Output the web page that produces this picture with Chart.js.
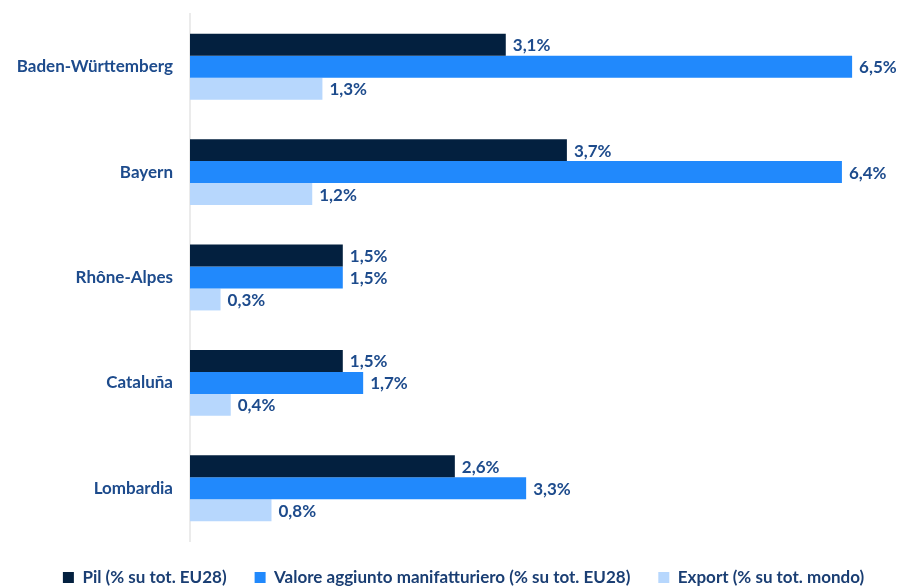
<!DOCTYPE html>
<html>
<head>
<meta charset="utf-8">
<script src="https://cdn.jsdelivr.net/npm/chart.js@4/dist/chart.umd.min.js"></script>
<style>
  html, body { margin: 0; padding: 0; background: #fff; }
  #wrap { width: 901px; height: 588px; }
</style>
</head>
<body>
<div id="wrap"><canvas id="myChart"></canvas></div>
<script>
const regioni = ['Baden-Württemberg', 'Bayern', 'Rhône-Alpes', 'Cataluña', 'Lombardia'];
const pil = [3.1, 3.7, 1.5, 1.5, 2.6];
const valoreAggiunto = [6.5, 6.4, 1.5, 1.7, 3.3];
const exportMondo = [1.3, 1.2, 0.3, 0.4, 0.8];
const serieNomi = [
    'Pil (% su tot. EU28)',
    'Valore aggiunto manifatturiero (% su tot. EU28)',
    'Export (% su tot. mondo)'
];

const labelColor = '#1d4b8c';
const fontFamily = 'Lato, "Noto Sans", sans-serif';

// write the value to the right of each bar, italian style (comma decimals)
const valueLabels = {
    id: 'valueLabels',
    afterDatasetsDraw(chart) {
        const c = chart.ctx;
        c.save();
        c.font = 'bold 17px ' + fontFamily;
        c.fillStyle = labelColor;
        c.textBaseline = 'middle';
        c.textAlign = 'left';
        chart.data.datasets.forEach((ds, i) => {
            chart.getDatasetMeta(i).data.forEach((bar, j) => {
                const txt = ds.data[j].toFixed(1).replace('.', ',') + '%';
                c.fillText(txt, bar.x + 7, bar.y + 1);
            });
        });
        c.restore();
    }
};

const data = {
    labels: regioni,
    datasets: [{
        label: serieNomi[0],
        data: pil,
        backgroundColor: '#03203f'
    }, {
        label: serieNomi[1],
        data: valoreAggiunto,
        backgroundColor: '#2189fc'
    }, {
        label: serieNomi[2],
        data: exportMondo,
        backgroundColor: '#b7d7fd'
    }]
};

const config = {
    type: 'bar',
    data: data,
    options: {
        indexAxis: 'y',
        responsive: true,
        maintainAspectRatio: false,
        animation: false,
        // negative right padding nudges the centred legend a bit to the right
        layout: {
            padding: { top: 14, right: -26, left: 0, bottom: -8 }
        },
        datasets: {
            bar: {
                barPercentage: 1,
                categoryPercentage: 0.625
            }
        },
        scales: {
            x: {
                display: false,
                min: 0,
                max: 6.98
            },
            y: {
                grid: { display: false },
                border: { color: '#ebebeb', width: 2 },
                ticks: {
                    color: labelColor,
                    padding: 9,
                    font: { family: fontFamily, size: 17, weight: 'bold' }
                },
                afterFit(scale) {
                    scale.width = 190;
                    scale.paddingTop = 0;
                    scale.paddingBottom = 0;
                }
            }
        },
        plugins: {
            legend: {
                position: 'bottom',
                labels: {
                    boxWidth: 11,
                    boxHeight: 11,
                    padding: 28,
                    color: '#1a3e73',
                    font: { family: fontFamily, size: 17, weight: 'bold' }
                }
            },
            tooltip: { enabled: false }
        }
    },
    plugins: [valueLabels]
};

Chart.defaults.color = labelColor;

const ctx = document.getElementById('myChart');
const chart = new Chart(ctx, config);
</script>
</body>
</html>
